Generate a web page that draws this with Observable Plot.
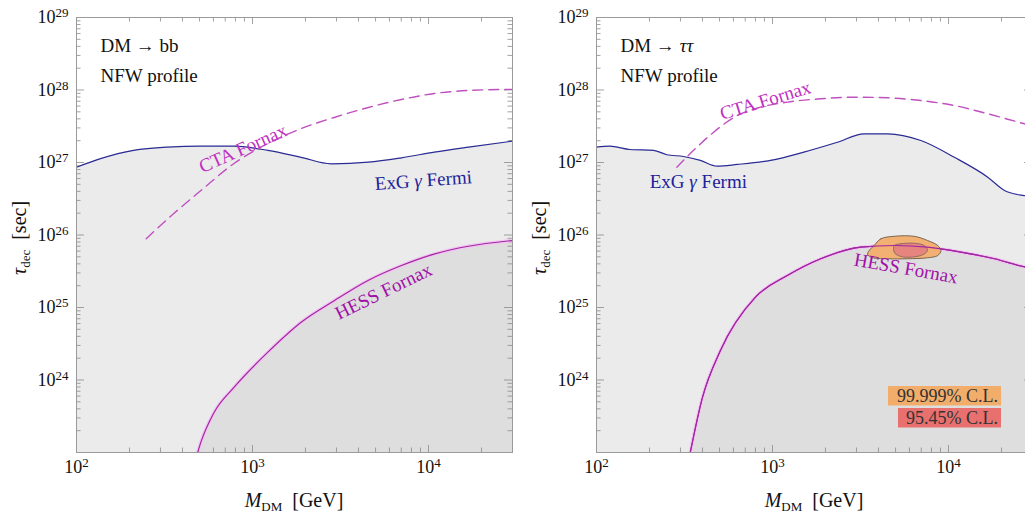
<!DOCTYPE html>
<html><head><meta charset="utf-8">
<script src="https://cdn.jsdelivr.net/npm/d3@7"></script>
<script src="https://cdn.jsdelivr.net/npm/@observablehq/plot@0.6"></script>
<style>
body{margin:0;background:#fff;overflow:hidden;}
#wrap{position:relative;width:1025px;height:515px;overflow:hidden;}
.panel{position:absolute;top:0;width:520px;height:515px;}
.panel svg{max-width:none !important;width:520px;height:515px;display:block;}
</style></head><body><div id="wrap"></div>
<script>
// ---- axis ticks ----
const xTicks = [1e2, 1e3, 1e4];
const yTicks = [1e24, 1e25, 1e26, 1e27, 1e28, 1e29];
const xDomain = [100, 30000];
const yDomain = [1e23, 1e29];

// ---- left panel: DM -> bb ----
const bbFermiM   = [100,137,211,330,509,785,1225,1890,2800,4550,7015,10800,16900,30000];
const bbFermiTau = [8.6e26,1.13e27,1.47e27,1.63e27,1.68e27,1.68e27,1.47e27,1.18e27,9.6e26,1.01e27,1.16e27,1.39e27,1.63e27,1.97e27];
const bbCtaM     = [249,357,509,785,1225,1890,2910,4550,7015,10800,16900,29700];
const bbCtaTau   = [8.9e25,1.98e26,4.1e26,9.7e26,1.83e27,2.94e27,4.18e27,5.74e27,7.4e27,8.95e27,9.85e27,1.02e28];
const bbHessM    = [488,509,606,787,1222,1890,2924,4530,7015,10860,16830,30000];
const bbHessTau  = [1.0e23,1.39e23,3.6e23,7.96e23,2.42e24,6.27e24,1.25e25,2.36e25,3.79e25,5.5e25,7.0e25,8.4e25];

// ---- right panel: DM -> tau tau ----
const ttFermiM   = [100,119,155,211,251,312,389,484,630,975,1508,2337,3313,4505,6966,10790,16700,20800,26500,30000];
const ttFermiTau = [1.63e27,1.68e27,1.51e27,1.47e27,1.28e27,1.21e27,1.07e27,8.9e26,9.4e26,1.07e27,1.39e27,1.9e27,2.49e27,2.49e27,2.01e27,1.18e27,6.27e26,4.11e26,3.51e26,3.4e26];
const ttCtaM     = [286,356,463,630,855,1214,1880,2905,4505,6966,10790,16700,27000,30000];
const ttCtaTau   = [8.6e26,1.47e27,2.62e27,4.45e27,5.8e27,6.8e27,7.57e27,7.96e27,7.8e27,7.16e27,6.11e27,4.7e27,3.42e27,3.2e27];
const ttHessM    = [341,398,506,800,1214,1880,3170,4910,7600,11780,18240,27700,30000];
const ttHessTau  = [1.0e23,5.5e23,2.55e24,1.39e25,2.76e25,4.7e25,6.8e25,7.16e25,6.8e25,5.8e25,4.7e25,3.6e25,3.5e25];
// confidence regions
const cl99M   = [3776,4120,4910,6380,7600,8670,9060,8670,7600,5860,4505,3614,3465,3614];
const cl99Tau = [7.17e25,8.86e25,9.6e25,9.6e25,8.4e25,7.17e25,6.1e25,5.2e25,4.85e25,4.7e25,4.7e25,4.94e25,5.5e25,6.46e25];
const cl95M   = [4910,5360,6380,7280,7600,7130,6110,5360,4955,4875];
const cl95Tau = [7.17e25,7.57e25,7.7e25,7.17e25,6.1e25,5.33e25,4.94e25,5.05e25,5.6e25,6.46e25];

// ---- curve labels ----
const bbLabels = [
  {text:"CTA Fornax",   M:883,  T:1.56e27, rotate:-24, color:"#c030c0"},
  {text:"ExG γ Fermi",  M:9350, T:5.65e26, rotate:-4,  color:"#22229a"},
  {text:"HESS Fornax",  M:5545, T:1.66e25, rotate:-26, color:"#a010a8"}
];
const ttLabels = [
  {text:"CTA Fornax",   M:912,  T:7.16e27, rotate:-17, color:"#c030c0"},
  {text:"ExG γ Fermi",  M:379,  T:5.47e26, rotate:0,   color:"#22229a"},
  {text:"HESS Fornax",  M:5730, T:3.45e25, rotate:10,  color:"#a010a8"}
];
const legendItems = [
  {text:"99.999% C.L.", color:"#f2ad6b"},
  {text:"95.45% C.L.",  color:"#e8706f"}
];

const SERIF = "Liberation Serif, Times New Roman, serif";
const fmtPow = d => "10|" + Math.round(Math.log10(d));
const zip = (M, T) => M.map((m, i) => ({M: m, T: T[i]}));

const minorX = [];
for (const dec of [1e2, 1e3, 1e4]) for (let k = 2; k <= 9; k++) { const v = dec * k; if (v < xDomain[1]) minorX.push(v); }
const minorY = [];
for (const dec of [1e23, 1e24, 1e25, 1e26, 1e27, 1e28]) for (let k = 2; k <= 9; k++) minorY.push(dec * k);

const W = 520, H = 515, mT = 17, mB = 63, mL = 76, mR = 8;
const iw = W - mL - mR, ih = H - mT - mB;

function panel(cfg, offsetX) {
  const tickStyle = {stroke: "#8a8a8a", strokeWidth: 0.8};
  const marks = [
    Plot.areaY(zip(cfg.fermiM, cfg.fermiT), {x: "M", y1: () => yDomain[0], y2: "T", fill: "#ebebeb", curve: "monotone-x", clip: true}),
    Plot.areaY(zip(cfg.hessM, cfg.hessT), {x: "M", y1: () => yDomain[0], y2: "T", fill: "#dedede", curve: "monotone-x", clip: true}),
    // ticks (inward, all four sides)
    Plot.ruleX(xTicks, {x: d => d, insetTop: ih - 7, ...tickStyle}),
    Plot.ruleX(xTicks, {x: d => d, insetBottom: ih - 7, ...tickStyle}),
    Plot.ruleX(minorX, {x: d => d, insetTop: ih - 4.5, ...tickStyle}),
    Plot.ruleX(minorX, {x: d => d, insetBottom: ih - 4.5, ...tickStyle}),
    Plot.ruleY(yTicks, {y: d => d, insetRight: iw - 8, ...tickStyle}),
    Plot.ruleY(yTicks, {y: d => d, insetLeft: iw - 8, ...tickStyle}),
    Plot.ruleY(minorY, {y: d => d, insetRight: iw - 4.5, ...tickStyle}),
    Plot.ruleY(minorY, {y: d => d, insetLeft: iw - 4.5, ...tickStyle}),
    // curves
    Plot.line(zip(cfg.fermiM, cfg.fermiT), {x: "M", y: "T", stroke: "#2b2b96", strokeWidth: 1.2, curve: "monotone-x", clip: true}),
    Plot.line(zip(cfg.hessM, cfg.hessT), {x: "M", y: "T", stroke: "#f2c4f2", strokeWidth: 3.5, curve: "monotone-x", clip: true}),
    Plot.line(zip(cfg.hessM, cfg.hessT), {x: "M", y: "T", stroke: "#a028a0", strokeWidth: 1.2, curve: "monotone-x", clip: true}),
    Plot.line(zip(cfg.ctaM, cfg.ctaT), {x: "M", y: "T", stroke: "#c050c0", strokeWidth: 1.4, strokeDasharray: "10,6", curve: "monotone-x", clip: true})
  ];
  if (cfg.cl99) {
    marks.push(Plot.line(cfg.cl99, {x: "M", y: "T", fill: "#f2ad6b", fillOpacity: 0.95, stroke: "#6e5a4a", strokeWidth: 0.9, curve: "catmull-rom-closed"}));
    marks.push(Plot.line(cfg.cl95, {x: "M", y: "T", fill: "#e47c80", fillOpacity: 0.85, stroke: "#6e5a5a", strokeWidth: 0.7, curve: "catmull-rom-closed"}));
    marks.push(Plot.line(zip(cfg.hessM, cfg.hessT), {x: "M", y: "T", stroke: "#a028a0", strokeWidth: 1.1, curve: "monotone-x", clip: true}));
  }
  marks.push(
    Plot.text(cfg.labels, {x: "M", y: "T", text: "text", rotate: "rotate", fill: d => d.color, fontSize: 19, fontFamily: SERIF}),
    Plot.text([cfg.title, "NFW profile"], {frameAnchor: "top-left", text: d => d, fontSize: 19, fontFamily: SERIF, fill: "#111", lineAnchor: "middle"}),
    Plot.axisX({ticks: xTicks, tickFormat: fmtPow, tickSize: 0, tickPadding: 8, fontSize: 18, fontFamily: SERIF, fill: "#111"}),
    Plot.axisY({ticks: yTicks, tickFormat: fmtPow, tickSize: 0, tickPadding: 8, fontSize: 18, fontFamily: SERIF, fill: "#111"}),
    Plot.frame({stroke: "#9a9a9a", strokeWidth: 1})
  );
  const plot = Plot.plot({
    width: W, height: H, marginTop: mT, marginBottom: mB, marginLeft: mL, marginRight: mR,
    x: {type: "log", domain: xDomain, label: null, axis: null},
    y: {type: "log", domain: yDomain, label: null, axis: null},
    style: {background: "white", fontFamily: SERIF, overflow: "visible"},
    marks
  });
  const svg = d3.select(plot);
  // superscript exponents in tick labels; italic Greek letters in labels
  const corner = [cfg.title, "NFW profile"];
  svg.selectAll("text").each(function () {
    const s = this.textContent;
    const t = d3.select(this);
    if (/^10\|\d+$/.test(s)) {
      const e = s.split("|")[1];
      t.text(null);
      t.append("tspan").text("10");
      t.append("tspan").attr("dy", "-0.45em").style("font-size", "13px").text(e);
      return;
    }
    const i = corner.indexOf(s);
    if (i >= 0) {
      this.setAttribute("transform", `translate(${mL + 24},${mT + 34 + i * 30})`);
      this.removeAttribute("x"); this.removeAttribute("y");
      if (s === "DM → ττ") {
        t.text(null);
        t.append("tspan").text("DM → ");
        t.append("tspan").style("font-style", "italic").text("ττ");
      }
      return;
    }
    if (s === "ExG γ Fermi") {
      t.text(null);
      t.append("tspan").text("ExG ");
      t.append("tspan").style("font-style", "italic").text("γ");
      t.append("tspan").text(" Fermi");
    }
  });
  // axis titles
  const xl = svg.append("text").attr("x", mL + iw / 2).attr("y", 507).attr("text-anchor", "middle")
    .style("font-size", "20px").style("font-family", SERIF).attr("fill", "#111");
  xl.append("tspan").style("font-style", "italic").text("M");
  xl.append("tspan").attr("dy", 4).style("font-size", "13px").text("DM");
  xl.append("tspan").attr("dy", -4).text("\u00a0\u00a0[GeV]");
  const yl = svg.append("text").attr("transform", "translate(26,238) rotate(-90)").attr("text-anchor", "middle")
    .style("font-size", "20px").style("font-family", SERIF).attr("fill", "#111");
  yl.append("tspan").style("font-style", "italic").text("τ");
  yl.append("tspan").attr("dy", 4).style("font-size", "13px").text("dec");
  yl.append("tspan").attr("dy", -4).text("\u00a0\u00a0[sec]");
  if (cfg.legend) {
    const boxes = [{x: 888 - offsetX, y: 386, w: 113}, {x: 898 - offsetX, y: 408, w: 103}];
    cfg.legend.forEach((it, i) => {
      const b = boxes[i];
      svg.append("rect").attr("x", b.x).attr("y", b.y).attr("width", b.w).attr("height", 19.5).attr("fill", it.color);
      svg.append("text").attr("x", b.x + b.w - 3).attr("y", b.y + 15.5).attr("text-anchor", "end")
        .style("font-size", "18px").style("font-family", SERIF).attr("fill", "#333").text(it.text);
    });
  }
  const div = document.createElement("div");
  div.className = "panel";
  div.style.left = offsetX + "px";
  div.appendChild(plot);
  document.getElementById("wrap").appendChild(div);
  return plot;
}

panel({title: "DM → bb", fermiM: bbFermiM, fermiT: bbFermiTau, ctaM: bbCtaM, ctaT: bbCtaTau,
  hessM: bbHessM, hessT: bbHessTau, labels: bbLabels}, 0);
panel({title: "DM → ττ", fermiM: ttFermiM, fermiT: ttFermiTau, ctaM: ttCtaM, ctaT: ttCtaTau,
  hessM: ttHessM, hessT: ttHessTau, labels: ttLabels, cl99: zip(cl99M, cl99Tau), cl95: zip(cl95M, cl95Tau),
  legend: legendItems}, 520);
</script></body></html>
